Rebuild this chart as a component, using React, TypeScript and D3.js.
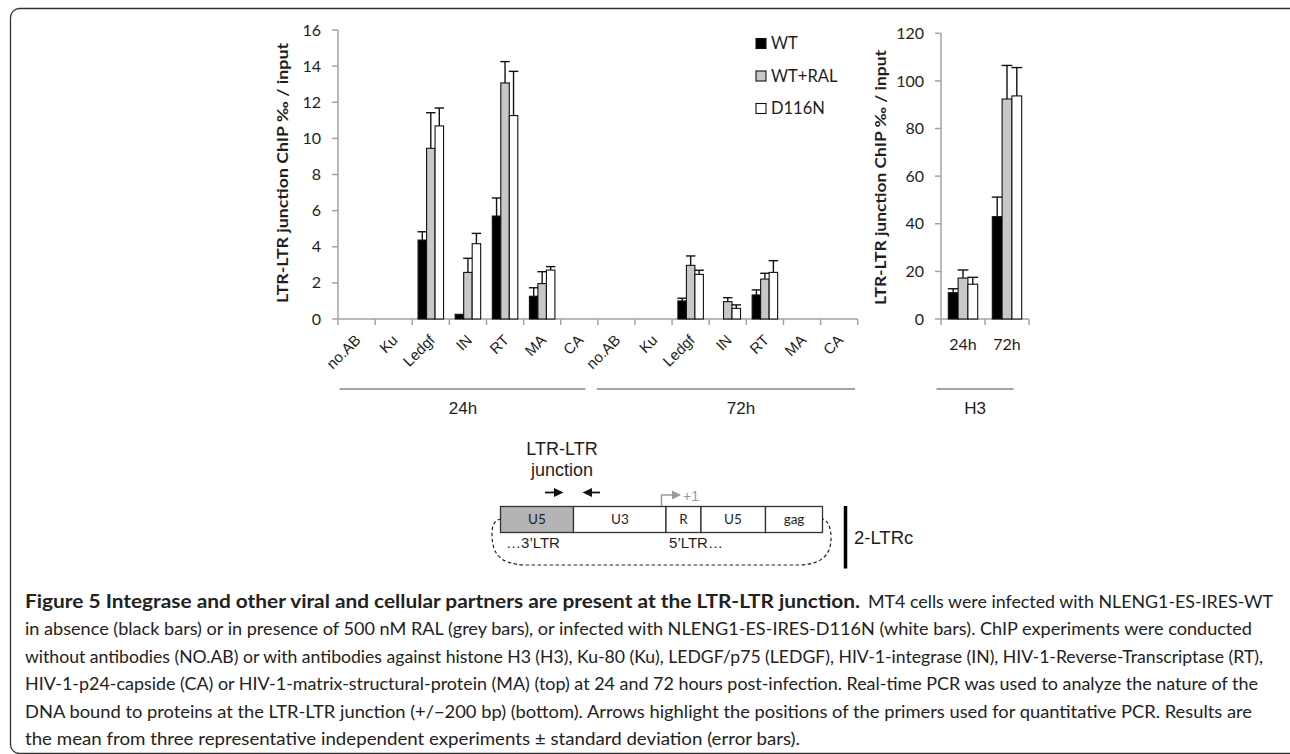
import React from "react";
import * as d3 from "d3";

// ---------- DATA ----------
const antibodies = ["no.AB", "Ku", "Ledgf", "IN", "RT", "MA", "CA"];
const timeGroups = ["24h", "72h"];
const seriesNames = ["WT", "WT+RAL", "D116N"];

const wt24 = [0, 0, 4.37, 0.22, 5.7, 1.26, 0];
const wt24Sd = [0, 0, 0.46, 0.03, 1.0, 0.47, 0];
const ral24 = [0, 0, 9.45, 2.58, 13.07, 1.96, 0];
const ral24Sd = [0, 0, 1.97, 0.78, 1.18, 0.66, 0];
const d116n24 = [0, 0, 10.69, 4.17, 11.26, 2.71, 0];
const d116n24Sd = [0, 0, 0.99, 0.57, 2.45, 0.19, 0];

const wt72 = [0, 0, 1.0, 0, 1.33, 0, 0];
const wt72Sd = [0, 0, 0.15, 0, 0.28, 0, 0];
const ral72 = [0, 0, 2.97, 0.96, 2.21, 0, 0];
const ral72Sd = [0, 0, 0.52, 0.22, 0.32, 0, 0];
const d116n72 = [0, 0, 2.47, 0.59, 2.58, 0, 0];
const d116n72Sd = [0, 0, 0.23, 0.19, 0.65, 0, 0];

const h3Categories = ["24h", "72h"];
const wtH3 = [11.05, 43.0];
const wtH3Sd = [1.65, 8.2];
const ralH3 = [17.2, 92.4];
const ralH3Sd = [3.4, 14.1];
const d116nH3 = [14.6, 93.7];
const d116nH3Sd = [2.9, 11.9];

const leftTicks = [0, 2, 4, 6, 8, 10, 12, 14, 16];
const rightTicks = [0, 20, 40, 60, 80, 100, 120];

const captionBold = "Figure 5 Integrase and other viral and cellular partners are present at the LTR-LTR junction.";
const captionLines = [
  "MT4 cells were infected with NLENG1-ES-IRES-WT",
  "in absence (black bars) or in presence of 500 nM RAL (grey bars), or infected with NLENG1-ES-IRES-D116N (white bars). ChIP experiments were conducted",
  "without antibodies (NO.AB) or with antibodies against histone H3 (H3), Ku-80 (Ku), LEDGF/p75 (LEDGF), HIV-1-integrase (IN), HIV-1-Reverse-Transcriptase (RT),",
  "HIV-1-p24-capside (CA) or HIV-1-matrix-structural-protein (MA) (top) at 24 and 72 hours post-infection. Real-time PCR was used to analyze the nature of the",
  "DNA bound to proteins at the LTR-LTR junction (+/\u2212200 bp) (bottom). Arrows highlight the positions of the primers used for quantitative PCR. Results are",
  "the mean from three representative independent experiments \u00b1 standard deviation (error bars).",
];
const captionEnds = [1273, 1252, 1263, 1258, 1252, 800];

// ---------- STYLE ----------
const CAL = "Lato, 'Open Sans', sans-serif";
const ARI = "'Liberation Sans', Arial, sans-serif";
const FILLS = ["#000000", "#c8c8c8", "#ffffff"];
const AXIS = "#a3a3a3";
const TXT = "#1e1e1e";

type Row = { cat: string; vals: number[]; sds: number[] };

const leftRows: Row[] = [];
antibodies.forEach((a, i) =>
  leftRows.push({ cat: "24h|" + a, vals: [wt24[i], ral24[i], d116n24[i]], sds: [wt24Sd[i], ral24Sd[i], d116n24Sd[i]] })
);
antibodies.forEach((a, i) =>
  leftRows.push({ cat: "72h|" + a, vals: [wt72[i], ral72[i], d116n72[i]], sds: [wt72Sd[i], ral72Sd[i], d116n72Sd[i]] })
);
const rightRows: Row[] = h3Categories.map((c, i) => ({
  cat: c,
  vals: [wtH3[i], ralH3[i], d116nH3[i]],
  sds: [wtH3Sd[i], ralH3Sd[i], d116nH3Sd[i]],
}));

function Bars({ rows, x, xs, y }: { rows: Row[]; x: d3.ScaleBand<string>; xs: d3.ScaleBand<string>; y: d3.ScaleLinear<number, number> }) {
  const bw = xs.bandwidth();
  return (
    <g>
      {rows.map((r) =>
        seriesNames.map((s, k) => {
          const v = r.vals[k];
          if (v <= 0) return null;
          const bx = (x(r.cat) as number) + (xs(s) as number);
          const top = y(v);
          const sd = r.sds[k];
          const cx = bx + bw / 2;
          return (
            <g key={r.cat + s}>
              <rect x={bx} y={top} width={bw} height={y(0) - top} fill={FILLS[k]} stroke="#111" strokeWidth={1.1} />
              {sd > 0 && (
                <g stroke="#111" strokeWidth={1.4}>
                  <line x1={cx} x2={cx} y1={top} y2={y(v + sd)} />
                  <line x1={cx - bw / 2 - 0.5} x2={cx + bw / 2 + 0.5} y1={y(v + sd)} y2={y(v + sd)} />
                </g>
              )}
            </g>
          );
        })
      )}
    </g>
  );
}

export default function App() {
  const base = 319;
  const yL = d3.scaleLinear().domain([0, 16]).range([base, 30]);
  const xL = d3.scaleBand<string>().domain(leftRows.map((r) => r.cat)).range([338, 857.7]).padding(0);
  const xsL = d3.scaleBand<string>().domain(seriesNames).range([0, xL.bandwidth()]).paddingInner(0).paddingOuter(0.685);

  const yR = d3.scaleLinear().domain([0, 120]).range([base, 33.3]);
  const xR = d3.scaleBand<string>().domain(rightRows.map((r) => r.cat)).range([941, 1029]).padding(0);
  const xsR = d3.scaleBand<string>().domain(seriesNames).range([0, xR.bandwidth()]).paddingInner(0).paddingOuter(0.745);

  const leftBounds = leftRows.map((r) => xL(r.cat) as number).concat([857.7]);
  const rightBounds = rightRows.map((r) => xR(r.cat) as number).concat([1029]);

  const x24Start = xL("24h|no.AB") as number;
  const x72Start = xL("72h|no.AB") as number;

  return (
    <svg width={1290} height={754} style={{ position: "absolute", left: 0, top: 0, background: "#fff" }}>
      {/* frame */}
      <rect x={10.5} y={8.5} width={1290} height={745} rx={9} fill="none" stroke="#333" strokeWidth={1.3} />

      {/* ---------- left chart ---------- */}
      <g>
        <line x1={338} x2={338} y1={yL(0)} y2={yL(16)} stroke={AXIS} strokeWidth={1.5} />
        {leftTicks.map((t) => (
          <g key={"lt" + t}>
            <line x1={332} x2={338} y1={yL(t)} y2={yL(t)} stroke={AXIS} strokeWidth={1.5} />
            <text x={321} y={yL(t)} dy="0.35em" textAnchor="end" fontFamily={CAL} fontSize={16} fill={TXT}>
              {t}
            </text>
          </g>
        ))}
        <line x1={338} x2={857.7} y1={base} y2={base} stroke={AXIS} strokeWidth={1.5} />
        {leftBounds.map((b, i) => (
          <line key={"lb" + i} x1={b} x2={b} y1={base} y2={base + 6} stroke={AXIS} strokeWidth={1.5} />
        ))}
        <Bars rows={leftRows} x={xL} xs={xsL} y={yL} />
        {leftRows.map((r) => {
          const cx = (xL(r.cat) as number) + xL.bandwidth() / 2 + 5;
          return (
            <text key={"xl" + r.cat} transform={`translate(${cx},341) rotate(-45)`} textAnchor="end" fontFamily={ARI} fontSize={15} fill={TXT}>
              {r.cat.split("|")[1]}
            </text>
          );
        })}
        <text
          transform={`translate(288,173) rotate(-90)`}
          textAnchor="middle"
          fontFamily={CAL}
          fontWeight="bold"
          fontSize={16}
          fill={TXT}
          textLength={260}
          lengthAdjust="spacingAndGlyphs"
        >
          LTR-LTR junction ChIP ‰ / input
        </text>
        {/* group brackets */}
        <line x1={x24Start + 1.5} x2={x72Start - 12.5} y1={389} y2={389} stroke={AXIS} strokeWidth={2} />
        <line x1={x72Start - 1} x2={855} y1={389} y2={389} stroke={AXIS} strokeWidth={2} />
        <text x={463} y={414} textAnchor="middle" fontFamily={ARI} fontSize={17} fill={TXT}>
          {timeGroups[0]}
        </text>
        <text x={741} y={414} textAnchor="middle" fontFamily={ARI} fontSize={17} fill={TXT}>
          {timeGroups[1]}
        </text>
      </g>

      {/* legend */}
      <g>
        {seriesNames.map((s, k) => (
          <g key={"lg" + s}>
            <rect x={756} y={38.5 + k * 32.5} width={10} height={10} fill={FILLS[k]} stroke="#111" strokeWidth={1.1} />
            <text x={771} y={43.5 + k * 32.5} dy="0.36em" fontFamily={CAL} fontSize={16.5} fill={TXT}>
              {s}
            </text>
          </g>
        ))}
      </g>

      {/* ---------- right chart ---------- */}
      <g>
        <line x1={941} x2={941} y1={yR(0)} y2={yR(120)} stroke={AXIS} strokeWidth={1.5} />
        {rightTicks.map((t) => (
          <g key={"rt" + t}>
            <line x1={935} x2={941} y1={yR(t)} y2={yR(t)} stroke={AXIS} strokeWidth={1.5} />
            <text x={924} y={yR(t)} dy="0.35em" textAnchor="end" fontFamily={CAL} fontSize={16} fill={TXT}>
              {t}
            </text>
          </g>
        ))}
        <line x1={941} x2={1029} y1={base} y2={base} stroke={AXIS} strokeWidth={1.5} />
        {rightBounds.map((b, i) => (
          <line key={"rb" + i} x1={b} x2={b} y1={base} y2={base + 6} stroke={AXIS} strokeWidth={1.5} />
        ))}
        <Bars rows={rightRows} x={xR} xs={xsR} y={yR} />
        {rightRows.map((r) => (
          <text key={"xr" + r.cat} x={(xR(r.cat) as number) + xR.bandwidth() / 2} y={350} textAnchor="middle" fontFamily={CAL} fontSize={16} fill={TXT}>
            {r.cat}
          </text>
        ))}
        <text
          transform={`translate(886,177.5) rotate(-90)`}
          textAnchor="middle"
          fontFamily={CAL}
          fontWeight="bold"
          fontSize={16}
          fill={TXT}
          textLength={255}
          lengthAdjust="spacingAndGlyphs"
        >
          LTR-LTR junction ChIP ‰ / input
        </text>
        <line x1={936.5} x2={1013.5} y1={389} y2={389} stroke={AXIS} strokeWidth={2} />
        <text x={975} y={414} textAnchor="middle" fontFamily={ARI} fontSize={17} fill={TXT}>
          H3
        </text>
      </g>

      {/* ---------- diagram ---------- */}
      <g>
        <text x={562} y={455} textAnchor="middle" fontFamily={ARI} fontSize={18} fill={TXT}>
          LTR-LTR
        </text>
        <text x={562} y={476} textAnchor="middle" fontFamily={ARI} fontSize={18} fill={TXT}>
          junction
        </text>
        {/* primer arrows */}
        <line x1={545} x2={556} y1={492.5} y2={492.5} stroke="#111" strokeWidth={1.8} />
        <path d="M554,488 L563.5,492.5 L554,497 Z" fill="#111" />
        <line x1={590} x2={600} y1={492.5} y2={492.5} stroke="#111" strokeWidth={1.8} />
        <path d="M592,488 L582.5,492.5 L592,497 Z" fill="#111" />
        {/* +1 */}
        <path d="M661.5,506.5 L661.5,495 L673,495" fill="none" stroke="#999" strokeWidth={1.5} />
        <path d="M672,490.5 L681,495 L672,499.5 Z" fill="#999" />
        <text x={683} y={500.5} fontFamily={ARI} fontSize={14} fill="#999">
          +1
        </text>
        {/* boxes */}
        <rect x={500.5} y={506.5} width={73} height={26} fill="#b4b4b4" stroke="#333" strokeWidth={1.3} />
        <rect x={573.5} y={506.5} width={92.5} height={26} fill="#fff" stroke="#333" strokeWidth={1.3} />
        <rect x={666} y={506.5} width={35} height={26} fill="#fff" stroke="#333" strokeWidth={1.3} />
        <rect x={701} y={506.5} width={64.5} height={26} fill="#fff" stroke="#333" strokeWidth={1.3} />
        <rect x={765.5} y={506.5} width={57} height={26} fill="#fff" stroke="#333" strokeWidth={1.3} />
        {[
          ["U5", 537],
          ["U3", 620],
          ["R", 683.5],
          ["U5", 733],
          ["gag", 794],
        ].map(([t, x], i) => (
          <text key={"bx" + i} x={x as number} y={519.5} dy="0.36em" textAnchor="middle" fontFamily={CAL} fontSize={13.5} fill={TXT}>
            {t as string}
          </text>
        ))}
        <text x={533} y={548} textAnchor="middle" fontFamily={ARI} fontSize={15} fill={TXT}>
          …3’LTR
        </text>
        <text x={696} y={548} textAnchor="middle" fontFamily={ARI} fontSize={15} fill={TXT}>
          5’LTR…
        </text>
        <path
          d="M501,519 C494,520 492,526 492,534 C492,552 498,564 525,565 L800,565 C824,564 831,553 831,538 C831,527 828,521 823,519"
          fill="none"
          stroke="#222"
          strokeWidth={1.2}
          strokeDasharray="3.5,2.5"
        />
        <line x1={845.5} x2={845.5} y1={506} y2={568.5} stroke="#000" strokeWidth={3.5} />
        <text x={854} y={544} fontFamily={ARI} fontSize={18.5} fill={TXT}>
          2-LTRc
        </text>
      </g>

      {/* ---------- caption ---------- */}
      <g fontFamily={CAL} fill="#222">
        <text x={25} y={607.5} fontSize={18} fontWeight="bold" textLength={835} lengthAdjust="spacingAndGlyphs">
          {captionBold}
        </text>
        <text x={868} y={607.5} fontSize={18} textLength={captionEnds[0] - 868} lengthAdjust="spacingAndGlyphs">
          {captionLines[0]}
        </text>
        {captionLines.slice(1).map((l, i) => (
          <text key={"cap" + i} x={25} y={635 + i * 27.5} fontSize={18} textLength={captionEnds[i + 1] - 25} lengthAdjust="spacingAndGlyphs">
            {l}
          </text>
        ))}
      </g>
    </svg>
  );
}
